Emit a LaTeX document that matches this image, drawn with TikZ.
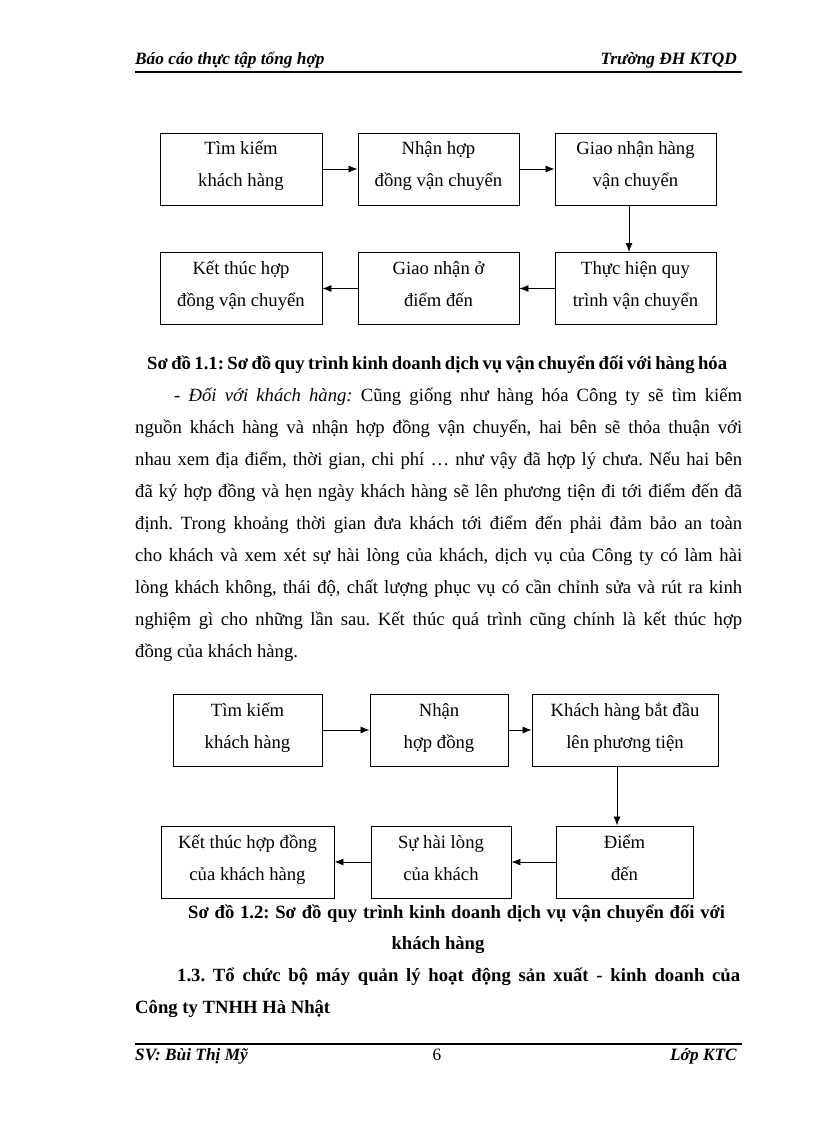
\documentclass[tikz,border=0pt]{standalone}
\usepackage{fontspec}
\setmainfont{Liberation Serif}
\usetikzlibrary{arrows.meta,calc}
\newcommand{\bodyfont}{\fontsize{18.67}{32}\selectfont}
\newcommand{\hdrfont}{\fontsize{17.3}{20}\selectfont}
\frenchspacing
\tikzset{
  box/.style={draw, line width=0.9pt, inner sep=0pt, align=center,
    font=\bodyfont, text height=46pt, text depth=10pt, minimum height=72pt},
  arr/.style={-{Latex[length=9pt,width=7pt]}, line width=0.8pt},
  txt/.style={anchor=base west, inner sep=0pt, font=\bodyfont},
  ctxt/.style={anchor=base, inner sep=0pt, font=\bodyfont},
  hdr/.style={inner sep=0pt, font=\hdrfont},
  rule/.style={line width=2.6pt},
}
\begin{document}
\begin{tikzpicture}[x=1pt,y=-1pt]
\useasboundingbox (0,0) rectangle (816,1123);
% header
\node[hdr, anchor=base west] (h1) at (135,65) {\textbf{\textit{Báo cáo thực tập tổng hợp}}};
\node[hdr, anchor=base east] (h2) at (737,65) {\textbf{\textit{Trường ĐH KTQD}}};
\coordinate (hl) at (135,72); \coordinate (hr) at (742,72);
\draw[rule] (hl) -- (hr);
% diagram 1
\node[box, minimum width=162pt] (a1) at (241,169) {Tìm kiếm\\khách hàng};
\node[box, minimum width=161pt] (a2) at (438.5,169) {Nhận hợp\\đồng vận chuyển};
\node[box, minimum width=161pt] (a3) at (635.5,169) {Giao nhận hàng\\vận chuyển};
\node[box, minimum width=162pt] (a4) at (241,288.5) {Kết thúc hợp\\đồng vận chuyển};
\node[box, minimum width=161pt] (a5) at (438.5,288.5) {Giao nhận ở\\điểm đến};
\node[box, minimum width=161pt] (a6) at (635.5,288.5) {Thực hiện quy\\trình vận chuyển};
\coordinate (v1) at (629,0);
\draw[arr] (a1) -- (a2);
\draw[arr] (a2) -- (a3);
\draw[arr] (a3.south -| v1) -- (a6.north -| v1);
\draw[arr] (a6) -- (a5);
\draw[arr] (a5) -- (a4);
% caption 1
\node[txt] (c1) at (147,369) {\makebox[580pt][s]{\textbf{Sơ đồ 1.1: Sơ đồ quy trình kinh doanh dịch vụ vận chuyển đối với hàng hóa}}};
% paragraph
\node[txt] (p1) at (174,401) {\makebox[568pt][s]{\textit{- Đối với khách hàng:} Cũng giống như hàng hóa Công ty sẽ tìm kiếm}};
\node[txt] (p2) at (135,433) {\makebox[607pt][s]{nguồn khách hàng và nhận hợp đồng vận chuyển, hai bên sẽ thỏa thuận với}};
\node[txt] (p3) at (135,465) {\makebox[607pt][s]{nhau xem địa điểm, thời gian, chi phí … như vậy đã hợp lý chưa. Nếu hai bên}};
\node[txt] (p4) at (135,497) {\makebox[607pt][s]{đã ký hợp đồng và hẹn ngày khách hàng sẽ lên phương tiện đi tới điểm đến đã}};
\node[txt] (p5) at (135,529) {\makebox[607pt][s]{định. Trong khoảng thời gian đưa khách tới điểm đến phải đảm bảo an toàn}};
\node[txt] (p6) at (135,561) {\makebox[607pt][s]{cho khách và xem xét sự hài lòng của khách, dịch vụ của Công ty có làm hài}};
\node[txt] (p7) at (135,593) {\makebox[607pt][s]{lòng khách không, thái độ, chất lượng phục vụ có cần chỉnh sửa và rút ra kinh}};
\node[txt] (p8) at (135,625) {\makebox[607pt][s]{nghiệm gì cho những lần sau. Kết thúc quá trình cũng chính là kết thúc hợp}};
\node[txt] (p9) at (135,657) {đồng của khách hàng.};
% diagram 2
\node[box, minimum width=149pt] (b1) at (247.5,730) {Tìm kiếm\\khách hàng};
\node[box, minimum width=138pt] (b2) at (439,730) {Nhận\\hợp đồng};
\node[box, minimum width=186pt] (b3) at (625,730) {Khách hàng bắt đầu\\lên phương tiện};
\node[box, minimum width=173pt] (b4) at (247.5,862) {Kết thúc hợp đồng\\của khách hàng};
\node[box, minimum width=140pt] (b5) at (441,862) {Sự hài lòng\\của khách};
\node[box, minimum width=137pt] (b6) at (624.5,862) {Điểm\\đến};
\coordinate (v2) at (617,0);
\draw[arr] (b1) -- (b2);
\draw[arr] (b2) -- (b3);
\draw[arr] (b3.south -| v2) -- (b6.north -| v2);
\draw[arr] (b6) -- (b5);
\draw[arr] (b5) -- (b4);
% caption 2
\node[txt] (c2) at (188,918) {\makebox[537pt][s]{\textbf{Sơ đồ 1.2: Sơ đồ quy trình kinh doanh dịch vụ vận chuyển đối với}}};
\node[ctxt] (c3) at (438,949) {\textbf{khách hàng}};
% heading
\node[txt] (s1) at (177,981) {\makebox[563pt][s]{\textbf{1.3. Tổ chức bộ máy quản lý hoạt động sản xuất - kinh doanh của}}};
\node[txt] (s2) at (135,1013) {\textbf{Công ty TNHH Hà Nhật}};
% footer
\coordinate (fl) at (135,1044); \coordinate (fr) at (742,1044);
\draw[rule] (fl) -- (fr);
\node[hdr, anchor=base west] (f1) at (135,1060) {\textbf{\textit{SV: Bùi Thị Mỹ}}};
\node[hdr, anchor=base] (f2) at (437,1060) {6};
\node[hdr, anchor=base east] (f3) at (737,1060) {\textbf{\textit{Lớp KTC}}};
\end{tikzpicture}
\end{document}
